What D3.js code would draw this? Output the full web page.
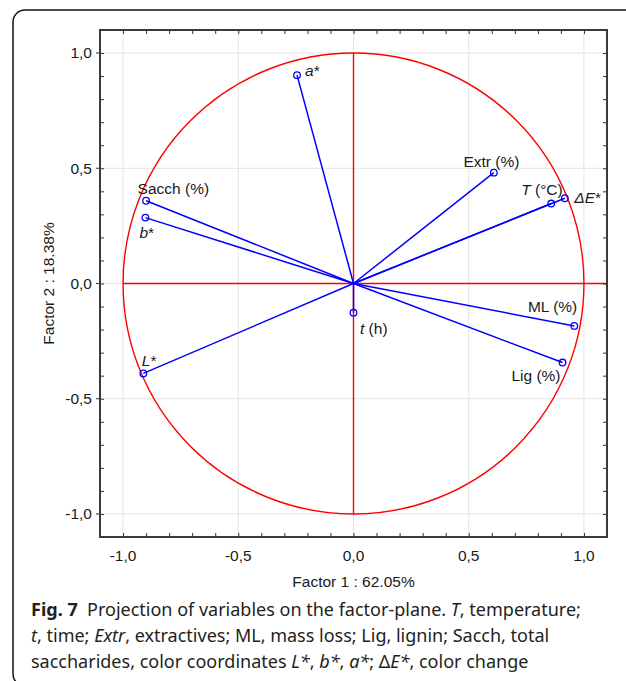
<!DOCTYPE html>
<html>
<head>
<meta charset="utf-8">
<script src="https://cdn.jsdelivr.net/npm/d3@7"></script>
<style>
  body { margin: 0; background: #fff; }
  svg { display: block; }
  .tick-label { font-family: "Liberation Sans", Arial, sans-serif; font-size: 15.5px; fill: #1a1a1a; }
  .axis-title { font-family: "Liberation Sans", Arial, sans-serif; font-size: 15.5px; fill: #1a1a1a; }
  .var-label { font-family: "Liberation Sans", Arial, sans-serif; font-size: 15.5px; fill: #1a1a1a; }
  .caption { font-family: "Noto Sans", "Open Sans", sans-serif; font-size: 18px; fill: #231f20; }
</style>
</head>
<body>
<svg id="chart" width="626" height="681"></svg>
<script>
// variables projected on the factor plane
const names = ['a*', 'Sacch (%)', 'b*', 'L*', 't (h)', 'ML (%)', 'Lig (%)', 'T (°C)', 'ΔE*', 'Extr (%)'];
const italicPart = ['a', '', 'b', 'L', 't', '', '', 'T', 'ΔE', ''];
const factor1 = [-0.245, -0.900, -0.903, -0.912, 0.000, 0.958, 0.907, 0.858, 0.917, 0.609];
const factor2 = [0.904, 0.359, 0.286, -0.390, -0.127, -0.184, -0.343, 0.347, 0.370, 0.481];

const majorTicks = [-1.0, -0.5, 0.0, 0.5, 1.0];
const minorTicks = d3.range(-11, 12).map(d => d / 10);
const xTitle = 'Factor 1 : 62.05%';
const yTitle = 'Factor 2 : 18.38%';

// where each label sits relative to its point
const labelPos = {
  'a*': { dx: 8, dy: 1, anchor: 'start' },
  'Sacch (%)': { dx: -8.5, dy: -7, anchor: 'start' },
  'b*': { dx: -6, dy: 20.5, anchor: 'start' },
  'L*': { dx: -1.5, dy: -7, anchor: 'start' },
  't (h)': { dx: 6.5, dy: 21, anchor: 'start' },
  'ML (%)': { dx: 3, dy: -13.5, anchor: 'end' },
  'Lig (%)': { dx: -2, dy: 18.5, anchor: 'end' },
  'T (°C)': { dx: 11.5, dy: -8.5, anchor: 'end' },
  'ΔE*': { dx: 9.5, dy: 5, anchor: 'start' },
  'Extr (%)': { dx: 25.5, dy: -5.5, anchor: 'end' },
};

const svg = d3.select('#chart');

// outer frame (runs off the right and bottom edges)
svg.append('rect')
  .attr('x', 13).attr('y', 10)
  .attr('width', 700).attr('height', 676)
  .attr('rx', 12)
  .attr('fill', 'none')
  .attr('stroke', '#111')
  .attr('stroke-width', 1.5);

const box = { left: 100, right: 607, top: 30, bottom: 537 };
const x = d3.scaleLinear().domain([-1.1, 1.1]).range([box.left, box.right]);
const y = d3.scaleLinear().domain([-1.1, 1.1]).range([box.bottom, box.top]);

const plot = svg.append('g');

// grid
plot.append('g').selectAll('line').data(majorTicks).join('line')
  .attr('x1', d => x(d)).attr('x2', d => x(d))
  .attr('y1', box.top).attr('y2', box.bottom)
  .attr('stroke', '#e4e4e4').attr('stroke-width', 1);
plot.append('g').selectAll('line').data(majorTicks).join('line')
  .attr('y1', d => y(d)).attr('y2', d => y(d))
  .attr('x1', box.left).attr('x2', box.right)
  .attr('stroke', '#e4e4e4').attr('stroke-width', 1);

// unit circle and red axes
plot.append('ellipse')
  .attr('cx', x(0)).attr('cy', y(0))
  .attr('rx', x(1) - x(0)).attr('ry', y(0) - y(1))
  .attr('fill', 'none').attr('stroke', '#ff0000').attr('stroke-width', 1.4);
plot.append('line')
  .attr('x1', x(-1)).attr('x2', x(1.1))
  .attr('y1', y(0)).attr('y2', y(0))
  .attr('stroke', '#ff0000').attr('stroke-width', 1.4);
plot.append('line')
  .attr('x1', x(0)).attr('x2', x(0))
  .attr('y1', y(1)).attr('y2', y(-1))
  .attr('stroke', '#ff0000').attr('stroke-width', 1.4);

// vectors
const pts = names.map((n, i) => ({ name: n, it: italicPart[i], f1: factor1[i], f2: factor2[i] }));
plot.append('g').selectAll('line').data(pts).join('line')
  .attr('x1', x(0)).attr('y1', y(0))
  .attr('x2', d => x(d.f1)).attr('y2', d => y(d.f2))
  .attr('stroke', '#0000ff').attr('stroke-width', 1.5);
plot.append('g').selectAll('circle').data(pts).join('circle')
  .attr('cx', d => x(d.f1)).attr('cy', d => y(d.f2))
  .attr('r', 3.3)
  .attr('fill', 'none').attr('stroke', '#0000ff').attr('stroke-width', 1.3);

const labels = plot.append('g').selectAll('text').data(pts).join('text')
  .attr('class', 'var-label')
  .attr('x', d => x(d.f1) + labelPos[d.name].dx)
  .attr('y', d => y(d.f2) + labelPos[d.name].dy)
  .attr('text-anchor', d => labelPos[d.name].anchor);
labels.append('tspan').attr('font-style', 'italic').text(d => d.it);
labels.append('tspan').text(d => d.name.slice(d.it.length));

// axes: minor ticks inside on all sides
const axes = svg.append('g');
axes.append('g').call(d3.axisBottom(x).tickValues(minorTicks).tickSize(-4).tickFormat(''))
  .attr('transform', `translate(0,${box.bottom})`);
axes.append('g').call(d3.axisTop(x).tickValues(minorTicks).tickSize(-4).tickFormat(''))
  .attr('transform', `translate(0,${box.top})`);
axes.append('g').call(d3.axisLeft(y).tickValues(minorTicks).tickSize(-4).tickFormat(''))
  .attr('transform', `translate(${box.left},0)`);
axes.append('g').call(d3.axisRight(y).tickValues(minorTicks).tickSize(-4).tickFormat(''))
  .attr('transform', `translate(${box.right},0)`);
axes.selectAll('.domain').remove();
axes.selectAll('line').attr('stroke', '#333');

// tick labels
const fmt = d => d3.format('.1f')(d).replace('.', ',').replace('−', '-');
axes.append('g').selectAll('text').data(majorTicks).join('text')
  .attr('class', 'tick-label')
  .attr('x', d => x(d)).attr('y', box.bottom + 23.5)
  .attr('text-anchor', 'middle')
  .text(fmt);
axes.append('g').selectAll('text').data(majorTicks).join('text')
  .attr('class', 'tick-label')
  .attr('x', box.left - 8).attr('y', d => y(d))
  .attr('dy', '0.35em')
  .attr('text-anchor', 'end')
  .text(fmt);
axes.append('g').selectAll('line').data(majorTicks).join('line')
  .attr('x1', box.left - 4).attr('x2', box.left)
  .attr('y1', d => y(d)).attr('y2', d => y(d))
  .attr('stroke', '#333');

// plot border
svg.append('rect')
  .attr('x', box.left).attr('y', box.top)
  .attr('width', box.right - box.left).attr('height', box.bottom - box.top)
  .attr('fill', 'none').attr('stroke', '#3a3a3a').attr('stroke-width', 2);

// axis titles
svg.append('text').attr('class', 'axis-title')
  .attr('x', (box.left + box.right) / 2).attr('y', 587)
  .attr('text-anchor', 'middle').text(xTitle);
svg.append('text').attr('class', 'axis-title')
  .attr('transform', `translate(54,${(box.top + box.bottom) / 2}) rotate(-90)`)
  .attr('text-anchor', 'middle').text(yTitle);

// caption
const captionLines = [
  [['Fig. 7', 'bold'], ['  Projection of variables on the factor-plane. ', ''], ['T', 'italic'], [', temperature;', '']],
  [['t', 'italic'], [', time; ', ''], ['Extr', 'italic'], [', extractives; ML, mass loss; Lig, lignin; Sacch, total', '']],
  [['saccharides, color coordinates ', ''], ['L*', 'italic'], [', ', ''], ['b*', 'italic'], [', ', ''], ['a*', 'italic'], ['; Δ', ''], ['E*', 'italic'], [', color change', '']],
];
const cap = svg.append('g');
captionLines.forEach((line, i) => {
  const t = cap.append('text').attr('class', 'caption')
    .attr('x', 31).attr('y', 616 + i * 26)
    .attr('xml:space', 'preserve');
  line.forEach(([s, style]) => {
    const sp = t.append('tspan').text(s);
    if (style === 'bold') sp.attr('font-weight', 'bold');
    if (style === 'italic') sp.attr('font-style', 'italic');
  });
});
</script>
</body>
</html>
